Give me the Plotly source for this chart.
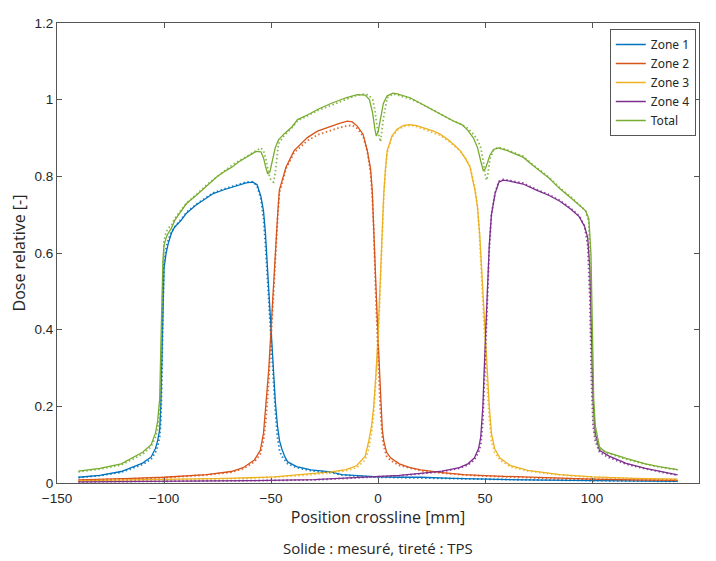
import plotly.graph_objects as go

# ---------------- data ----------------
series_names = ["Zone 1", "Zone 2", "Zone 3", "Zone 4", "Total"]
series_colors = ["#0072BD", "#D95319", "#EDB120", "#7E2F8E", "#77AC30"]

z1_x = [-140, -130, -120, -115, -110, -106, -104, -103, -102, -101.5, -101, -100.5, -100, -99, -98, -96.5, -95, -92, -89.5, -85, -80, -77, -72, -68, -64, -61.6, -58.5, -56.5, -54.7, -53.5, -52.6, -51.5, -50.5, -50, -49, -48, -47, -46, -45, -43.5, -42.2, -38, -31.4, -22, -17, -10, 0, 10, 20, 35, 50, 70, 90, 110, 125, 140]
z1_meas = [0.015, 0.02, 0.03, 0.042, 0.052, 0.068, 0.09, 0.11, 0.14, 0.2, 0.33, 0.48, 0.56, 0.6, 0.625, 0.652, 0.668, 0.685, 0.704, 0.725, 0.745, 0.755, 0.765, 0.772, 0.779, 0.783, 0.785, 0.778, 0.747, 0.71, 0.652, 0.55, 0.45, 0.39, 0.3, 0.214, 0.15, 0.11, 0.09, 0.068, 0.055, 0.043, 0.034, 0.029, 0.022, 0.019, 0.016, 0.015, 0.015, 0.012, 0.01, 0.008, 0.007, 0.006, 0.005, 0.004]
z1_tps = [0.014, 0.019, 0.028, 0.038, 0.048, 0.062, 0.08, 0.095, 0.12, 0.16, 0.26, 0.45, 0.57, 0.615, 0.635, 0.655, 0.668, 0.688, 0.706, 0.727, 0.747, 0.757, 0.767, 0.774, 0.78, 0.785, 0.786, 0.775, 0.74, 0.69, 0.62, 0.52, 0.42, 0.36, 0.27, 0.19, 0.12, 0.085, 0.07, 0.058, 0.05, 0.04, 0.032, 0.027, 0.021, 0.018, 0.015, 0.014, 0.013, 0.011, 0.009, 0.008, 0.007, 0.006, 0.005, 0.004]

z2_x = [-140, -130, -115, -100, -90, -80, -68.6, -63, -57.8, -55, -53.5, -52.3, -51, -50, -49, -48, -46.9, -46.1, -43, -39.2, -33, -28.3, -22, -18, -14.3, -12, -9.7, -7, -5, -3.5, -2.7, -2, -1, 0, 1, 2, 2.7, 4, 6, 10, 15, 20, 30, 40, 50, 60, 80, 100, 120, 140]
z2_meas = [0.008, 0.009, 0.012, 0.015, 0.018, 0.022, 0.03, 0.04, 0.06, 0.085, 0.13, 0.21, 0.3, 0.4, 0.5, 0.62, 0.7, 0.764, 0.824, 0.867, 0.901, 0.918, 0.931, 0.938, 0.944, 0.942, 0.931, 0.91, 0.867, 0.82, 0.764, 0.68, 0.52, 0.38, 0.24, 0.14, 0.11, 0.08, 0.065, 0.05, 0.04, 0.034, 0.027, 0.022, 0.019, 0.017, 0.013, 0.01, 0.008, 0.007]
z2_tps = [0.007, 0.008, 0.011, 0.014, 0.017, 0.021, 0.028, 0.037, 0.055, 0.075, 0.11, 0.17, 0.27, 0.37, 0.48, 0.6, 0.69, 0.755, 0.82, 0.862, 0.893, 0.908, 0.92, 0.927, 0.932, 0.933, 0.925, 0.905, 0.865, 0.81, 0.75, 0.66, 0.48, 0.33, 0.2, 0.12, 0.095, 0.07, 0.058, 0.046, 0.038, 0.032, 0.026, 0.021, 0.018, 0.016, 0.012, 0.01, 0.008, 0.007]

z3_x = [-140, -115, -90, -70, -48.5, -35, -22, -15, -10, -6, -4.3, -3, -2, -1, 0, 1, 2, 2.7, 3.5, 4.3, 6.5, 8.9, 12, 15, 18, 22, 26, 29, 33, 36, 38.4, 41, 43, 45.3, 46.5, 47.5, 48.5, 49.3, 50, 51, 52, 53, 54.5, 57, 62, 70, 85, 100, 120, 140]
z3_meas = [0.006, 0.008, 0.01, 0.012, 0.016, 0.022, 0.029, 0.035, 0.045, 0.07, 0.11, 0.15, 0.2, 0.28, 0.38, 0.52, 0.66, 0.755, 0.82, 0.867, 0.905, 0.923, 0.933, 0.935, 0.932, 0.925, 0.918, 0.91, 0.895, 0.88, 0.867, 0.845, 0.824, 0.764, 0.72, 0.65, 0.55, 0.46, 0.38, 0.28, 0.2, 0.13, 0.09, 0.065, 0.045, 0.033, 0.022, 0.016, 0.012, 0.01]
z3_tps = [0.005, 0.007, 0.009, 0.011, 0.015, 0.02, 0.027, 0.032, 0.04, 0.06, 0.09, 0.13, 0.18, 0.26, 0.36, 0.5, 0.65, 0.75, 0.815, 0.862, 0.902, 0.92, 0.93, 0.933, 0.93, 0.922, 0.915, 0.907, 0.892, 0.878, 0.866, 0.846, 0.826, 0.77, 0.72, 0.64, 0.53, 0.43, 0.35, 0.25, 0.17, 0.11, 0.08, 0.06, 0.042, 0.031, 0.021, 0.015, 0.011, 0.009]

z4_x = [-140, -100, -60, -30, -17, 0, 10, 19.8, 30, 38, 42, 45, 47, 48, 49, 50, 51, 52, 53, 54.7, 56.5, 58.5, 62, 67.8, 74, 80, 85, 90, 94, 96.5, 98, 99, 99.7, 100.5, 101.5, 103.5, 108, 116, 125, 132, 140]
z4_meas = [0.003, 0.004, 0.006, 0.009, 0.012, 0.016, 0.02, 0.025, 0.031, 0.04, 0.05, 0.065, 0.09, 0.12, 0.2, 0.35, 0.5, 0.62, 0.7, 0.755, 0.785, 0.79, 0.787, 0.78, 0.764, 0.75, 0.735, 0.715, 0.695, 0.67, 0.64, 0.56, 0.4, 0.22, 0.13, 0.085, 0.07, 0.051, 0.038, 0.03, 0.021]
z4_tps = [0.003, 0.004, 0.006, 0.008, 0.011, 0.015, 0.019, 0.024, 0.03, 0.038, 0.047, 0.06, 0.08, 0.1, 0.16, 0.31, 0.48, 0.61, 0.7, 0.757, 0.787, 0.792, 0.789, 0.782, 0.766, 0.752, 0.737, 0.717, 0.697, 0.67, 0.62, 0.48, 0.27, 0.15, 0.11, 0.08, 0.066, 0.049, 0.037, 0.029, 0.02]

tot_x = [-140, -130, -120, -115, -110, -106, -104, -103, -102, -101.5, -101, -100.5, -100, -99, -98, -96.5, -95, -92, -89.5, -85, -80, -75, -71, -68, -65, -60, -57, -54.7, -53.5, -52.5, -51.5, -50.5, -49.5, -48.8, -48, -46.5, -44, -40, -37.6, -33, -28, -22, -15, -9.7, -6, -4, -2.5, -1.5, -0.8, 0, 1.2, 2.5, 4.3, 7, 9, 15, 20, 25, 30, 35, 39.2, 42, 44.6, 46.5, 48, 49.2, 50.2, 50.8, 51.2, 52.3, 54, 56.2, 60, 64, 67.8, 72, 75.6, 80, 84.9, 90, 94, 97, 98.5, 99.5, 100.2, 100.8, 101.5, 103.5, 106, 110, 116, 125, 132, 140]
tot_meas = [0.031, 0.038, 0.05, 0.064, 0.08, 0.1, 0.13, 0.16, 0.22, 0.35, 0.5, 0.58, 0.62, 0.64, 0.652, 0.665, 0.685, 0.71, 0.729, 0.75, 0.775, 0.8, 0.815, 0.825, 0.838, 0.855, 0.865, 0.864, 0.848, 0.825, 0.806, 0.812, 0.84, 0.86, 0.875, 0.895, 0.91, 0.93, 0.948, 0.96, 0.975, 0.99, 1.005, 1.013, 1.012, 1.0, 0.965, 0.925, 0.905, 0.915, 0.95, 0.99, 1.01, 1.017, 1.015, 1.005, 0.99, 0.975, 0.96, 0.945, 0.935, 0.92, 0.9, 0.875, 0.84, 0.815, 0.82, 0.83, 0.84, 0.855, 0.87, 0.874, 0.868, 0.858, 0.85, 0.83, 0.815, 0.795, 0.768, 0.745, 0.725, 0.71, 0.69, 0.6, 0.4, 0.22, 0.15, 0.094, 0.082, 0.074, 0.064, 0.05, 0.042, 0.035]
tot_tps = [0.029, 0.036, 0.047, 0.06, 0.075, 0.095, 0.12, 0.14, 0.18, 0.26, 0.42, 0.56, 0.63, 0.655, 0.665, 0.672, 0.69, 0.712, 0.73, 0.752, 0.778, 0.8, 0.818, 0.83, 0.84, 0.857, 0.868, 0.874, 0.866, 0.848, 0.82, 0.795, 0.787, 0.785, 0.81, 0.885, 0.905, 0.928, 0.945, 0.958, 0.972, 0.985, 1.0, 1.012, 1.015, 1.01, 1.0, 0.975, 0.945, 0.915, 0.89, 0.95, 1.005, 1.015, 1.012, 1.002, 0.99, 0.975, 0.96, 0.945, 0.935, 0.925, 0.91, 0.895, 0.875, 0.84, 0.8, 0.79, 0.8, 0.845, 0.868, 0.876, 0.87, 0.86, 0.852, 0.832, 0.817, 0.797, 0.77, 0.747, 0.726, 0.71, 0.68, 0.5, 0.25, 0.15, 0.12, 0.09, 0.08, 0.072, 0.062, 0.049, 0.041, 0.034]

x_ticks = [-150, -100, -50, 0, 50, 100, 150]
y_ticks = [0, 0.2, 0.4, 0.6, 0.8, 1, 1.2]
y_tick_text = ["0", "0.2", "0.4", "0.6", "0.8", "1", "1.2"]

# ---------------- figure ----------------
all_x = [z1_x, z2_x, z3_x, z4_x, tot_x]
all_meas = [z1_meas, z2_meas, z3_meas, z4_meas, tot_meas]
all_tps = [z1_tps, z2_tps, z3_tps, z4_tps, tot_tps]

fig = go.Figure()
for name, col, xs, ym in zip(series_names, series_colors, all_x, all_meas):
    fig.add_trace(go.Scatter(x=xs, y=ym, mode="lines", name=name,
                             line=dict(color=col, width=1.3)))
for name, col, xs, yt in zip(series_names, series_colors, all_x, all_tps):
    fig.add_trace(go.Scatter(x=xs, y=yt, mode="lines", name=name + " TPS",
                             showlegend=False, opacity=0.85,
                             line=dict(color=col, width=1.8, dash="1.5px,2.5px")))

axis_common = dict(
    showgrid=False, zeroline=False, showline=True, mirror="ticks",
    linecolor="#555555", linewidth=1, ticks="inside", ticklen=5,
    tickcolor="#555555",
    tickfont=dict(family="Liberation Sans, Arial, sans-serif", size=13.5, color="#262626"),
)

fig.update_layout(
    width=700, height=553,
    margin=dict(l=47, r=8, t=9, b=78),
    paper_bgcolor="white", plot_bgcolor="white",
    xaxis=dict(range=[-150, 150], tickvals=x_ticks, ticklabelstandoff=3, **axis_common,
               title=dict(text="Position crossline [mm]", standoff=6,
                          font=dict(family="Open Sans, Noto Sans, sans-serif", size=16, color="#262626"))),
    yaxis=dict(range=[0, 1.2], tickvals=y_ticks, ticktext=y_tick_text, **axis_common,
               title=dict(text="Dose relative [-]", standoff=7,
                          font=dict(family="Open Sans, Noto Sans, sans-serif", size=16, color="#262626"))),
    legend=dict(x=0.995, y=0.987, xanchor="right", yanchor="top",
                bgcolor="white", bordercolor="#555555", borderwidth=1,
                font=dict(family="Liberation Sans Narrow, Noto Sans, sans-serif", size=12, color="#262626"),
                itemwidth=30, tracegroupgap=0),
    annotations=[dict(text="Solide : mesuré, tireté : TPS", xref="paper", yref="paper",
                      x=0.5, y=-0.142, xanchor="center", yanchor="middle", showarrow=False,
                      font=dict(family="Open Sans, Noto Sans, sans-serif", size=15, color="#262626"))],
    showlegend=True,
)

fig.write_html("out.html")
